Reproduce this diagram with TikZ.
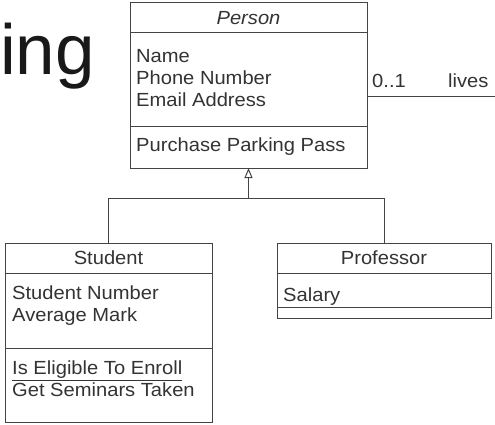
\documentclass[tikz,border=0pt]{standalone}
\usepackage{fontspec}
\setmainfont{Liberation Sans}
\newfontfamily\umlfam[FakeStretch=1.06]{Liberation Sans}
\usetikzlibrary{arrows.meta}
\definecolor{inkgray}{HTML}{333333}
\definecolor{rulegray}{HTML}{444444}
\newcommand{\umlfont}{\umlfam\fontsize{19}{22}\selectfont}

\begin{document}
\begin{tikzpicture}[x=1pt,y=-1pt,
    conn/.style={draw=rulegray,line width=1pt},
    txt/.style={inner sep=0pt,align=left,text=inkgray,font=\umlfont,anchor=north west}]
    \tikzstyle{compart}=[draw=rulegray,line width=1pt,inner sep=0pt,outer sep=0pt,text=inkgray,font=\umlfont,anchor=north]

    \useasboundingbox (0,0) rectangle (495,425);

    \node[anchor=base west,inner sep=0pt,font=\fontsize{71}{71}\selectfont,text=black!90] (titleFrag) at (0,75) {ing};

    % Person
    \node[compart,anchor=north west,minimum width=237pt,minimum height=30pt] (personHead) at (130,3) {\textit{Person}};
    \node[compart,minimum width=237pt,minimum height=94pt] (personAttr) at (personHead.south) {};
    \node[compart,minimum width=237pt,minimum height=41pt] (personOps) at (personAttr.south) {};
    \node[txt] (personAttrTxt) at ([shift={(6,16)}]personAttr.north west) {Name\\Phone Number\\Email Address};
    \node[txt] (personOpsTxt) at ([shift={(6,11)}]personOps.north west) {Purchase Parking Pass};

    % Student
    \node[compart,anchor=north west,minimum width=207pt,minimum height=30pt] (studentHead) at (5,243) {Student};
    \node[compart,minimum width=207pt,minimum height=75pt] (studentAttr) at (studentHead.south) {};
    \node[compart,minimum width=207pt,minimum height=74.5pt] (studentOps) at (studentAttr.south) {};
    \node[txt] (studentAttrTxt) at ([shift={(7,13)}]studentAttr.north west) {Student Number\\Average Mark};
    \node[txt] (studentOpsTxt) at ([shift={(7,13)}]studentOps.north west) {\underline{Is Eligible To Enroll}\\Get Seminars Taken};

    % Professor
    \node[compart,anchor=north west,minimum width=214pt,minimum height=30pt] (profHead) at (277,243) {Professor};
    \node[compart,minimum width=214pt,minimum height=34.5pt] (profAttr) at (profHead.south) {};
    \node[compart,minimum width=214pt,minimum height=10.5pt] (profOps) at (profAttr.south) {};
    \node[txt] (profAttrTxt) at ([shift={(6,15)}]profAttr.north west) {Salary};

    % association
    \coordinate (livesEnd) at (495,97);
    \draw[conn] (personAttr.east |- livesEnd) -- (livesEnd);
    \node[txt,anchor=base west] (multLbl) at (372,88) {0..1};
    \node[txt,anchor=base west] (livesLbl) at (448,88) {lives};

    % generalization
    \coordinate (genJoin) at (personOps.south |- 0,198.6);
    \draw[conn] (studentHead.north) |- (genJoin) -| (profHead.north);
    \draw[conn,-{Triangle[open,length=10pt,width=8pt]}] (genJoin) -- (personOps.south);

\end{tikzpicture}
\end{document}
